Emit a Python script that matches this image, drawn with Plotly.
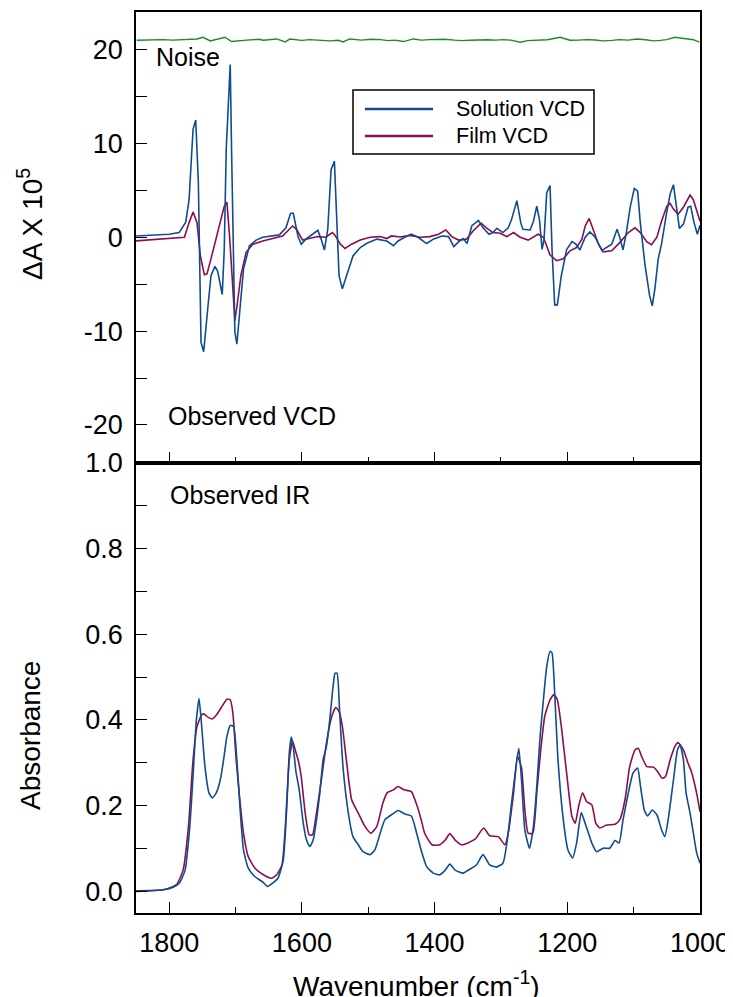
import plotly.graph_objects as go

# ---------------- data ----------------
sol_vcd_wn = [1850, 1800, 1785, 1775, 1770, 1764, 1760, 1756, 1752, 1748, 1742, 1737, 1731, 1727, 1720, 1717,
              1714, 1710, 1708, 1706, 1703, 1701, 1698, 1693, 1688, 1679, 1669, 1659, 1644, 1634, 1624, 1617,
              1613, 1606, 1601, 1594, 1584, 1576, 1571, 1566, 1561, 1556, 1551, 1548, 1544, 1539, 1530, 1523,
              1512, 1502, 1487, 1472, 1462, 1455, 1445, 1435, 1425, 1412, 1402, 1389, 1379, 1371, 1364, 1357,
              1351, 1344, 1334, 1327, 1318, 1312, 1306, 1297, 1289, 1284, 1276, 1270, 1267, 1256, 1251, 1246,
              1242, 1238, 1235, 1231, 1226, 1223, 1219, 1215, 1209, 1201, 1193, 1187, 1181, 1173, 1166, 1158,
              1148, 1141, 1133, 1125, 1121, 1116, 1111, 1105, 1099, 1094, 1090, 1083, 1076, 1072, 1068, 1063,
              1058, 1051, 1045, 1040, 1036, 1031, 1025, 1018, 1014, 1009, 1004, 1000]
sol_vcd = [0.14, 0.32, 0.5, 1.6, 4.0, 11.5, 12.5, 5.8, -11.2, -12.2, -7.7, -4.1, -3.1, -3.6, -6.1, -1.3,
           9.4, 16.5, 18.4, 9.4, -4.8, -10.1, -11.4, -6.9, -3.4, -0.9, -0.3, 0.0, 0.14, 0.25, 1.0, 2.55,
           2.55, 0.14, -0.74, -0.2, 0.32, 0.74, -0.2, -1.35, 0.85, 7.2, 8.1, 2.3, -4.1, -5.5, -3.4, -2.0,
           -1.1, -0.64, -0.2, -0.4, -0.9, -0.4, 0.0, 0.32, 0.0, -0.67, -0.2, 0.14, 0.07, -1.0, -0.5, -0.14,
           -0.67, 1.2, 1.8, 1.0, 0.32, 0.5, 0.96, 0.5, 1.0, 1.9, 3.9, 1.5, 0.85, 0.78, 1.7, 3.3,
           1.9, -1.3, -0.2, 4.75, 5.5, -1.3, -7.2, -7.2, -4.1, -1.3, -0.46, -0.74, -1.35, 0.0, 0.57, 0.0,
           -1.4, -1.1, -0.74, 0.85, 0.0, -1.35, 0.5, 3.3, 5.2, 4.9, 1.56, -2.9, -6.2, -7.3, -5.5, -2.3,
           -0.74, 2.3, 4.6, 5.6, 3.7, 0.93, 1.4, 3.2, 3.3, 1.56, 0.32, 1.28]

film_vcd_wn = [1850, 1800, 1777, 1770, 1764, 1758, 1753, 1747, 1743, 1737, 1729, 1722, 1717, 1713, 1709, 1704,
               1701, 1697, 1692, 1684, 1674, 1659, 1644, 1629, 1619, 1614, 1608, 1599, 1589, 1576, 1564, 1554,
               1550, 1542, 1535, 1525, 1512, 1497, 1482, 1472, 1465, 1452, 1437, 1422, 1407, 1394, 1383, 1374,
               1364, 1352, 1342, 1330, 1322, 1312, 1301, 1291, 1281, 1271, 1259, 1244, 1236, 1226, 1216, 1206,
               1196, 1186, 1178, 1173, 1167, 1161, 1153, 1146, 1133, 1121, 1108, 1098, 1090, 1080, 1073, 1065,
               1058, 1050, 1045, 1040, 1033, 1025, 1015, 1010, 1000]
film_vcd = [-0.39, -0.14, 0.0, 1.56, 2.7, 1.56, -2.0, -4.0, -3.9, -2.3, -0.2, 1.9, 3.3, 3.75, 0.14, -5.5,
            -8.9, -6.9, -4.1, -1.6, -0.74, -0.39, -0.14, 0.14, 0.85, 1.2, 0.85, -0.3, -0.14, 0.07, 0.0, 0.5,
            0.2, -0.74, -1.2, -0.74, -0.3, 0.0, 0.07, -0.14, 0.14, 0.03, 0.2, 0.0, 0.07, 0.32, 0.78, 0.07,
            -0.3, -0.2, 0.67, 1.5, 1.0, 0.5, 0.43, 0.07, 0.5, 0.0, -0.3, 0.32, 0.0, -1.9, -2.5, -2.3,
            -1.45, -1.1, -0.2, 1.2, 2.0, 0.85, -0.74, -1.56, -1.45, -0.57, 0.5, 1.0, 0.5, -0.5, -0.8, 0.0,
            1.7, 3.3, 3.6, 3.0, 2.45, 3.2, 4.5, 4.0, 1.7]

noise_wn = [1849, 1830, 1809, 1795, 1780, 1770, 1758, 1749, 1738, 1716, 1706, 1683, 1665, 1658, 1638, 1625,
            1618, 1600, 1588, 1558, 1545, 1538, 1528, 1510, 1495, 1482, 1470, 1460, 1447, 1432, 1420, 1407,
            1397, 1385, 1370, 1358, 1347, 1335, 1320, 1308, 1296, 1285, 1271, 1260, 1246, 1230, 1211, 1196,
            1183, 1171, 1158, 1146, 1133, 1121, 1108, 1095, 1082, 1070, 1060, 1050, 1038, 1020, 1010, 1001]
noise = [20.99, 21.02, 21.06, 21.0, 21.05, 21.08, 21.13, 21.31, 20.92, 21.31, 20.85, 21.0, 21.1, 20.99, 21.13, 20.81,
         21.13, 20.98, 21.06, 20.92, 20.99, 20.81, 21.13, 21.0, 21.1, 21.06, 20.95, 21.0, 20.85, 21.13, 21.0, 21.06,
         21.06, 21.1, 21.0, 20.95, 20.99, 21.05, 21.05, 21.0, 21.06, 21.0, 20.78, 20.95, 20.99, 21.05, 21.31, 20.99,
         21.0, 21.06, 21.02, 20.92, 20.98, 21.06, 21.0, 21.13, 21.05, 20.92, 20.98, 21.06, 21.31, 21.13, 21.05, 20.78]

sol_ir_wn = [1850, 1809, 1794, 1784, 1776, 1769, 1764, 1759, 1755, 1751, 1746, 1740, 1735, 1729, 1723, 1718,
             1713, 1708, 1703, 1698, 1693, 1688, 1681, 1671, 1658, 1652, 1643, 1636, 1628, 1623, 1619, 1616,
             1613, 1609, 1604, 1598, 1593, 1588, 1583, 1578, 1573, 1568, 1563, 1558, 1553, 1550, 1547, 1543,
             1538, 1530, 1523, 1515, 1508, 1497, 1490, 1482, 1475, 1465, 1455, 1445, 1435, 1427, 1420, 1412,
             1402, 1392, 1384, 1377, 1369, 1357, 1347, 1337, 1327, 1317, 1307, 1297, 1291, 1284, 1276, 1273,
             1269, 1264, 1257, 1251, 1246, 1241, 1236, 1231, 1226, 1223, 1219, 1214, 1206, 1199, 1192, 1186,
             1179, 1174, 1168, 1163, 1156, 1146, 1136, 1128, 1122, 1116, 1108, 1101, 1094, 1090, 1084, 1079,
             1072, 1065, 1058, 1053, 1048, 1040, 1034, 1030, 1025, 1021, 1015, 1010, 1005, 1000]
sol_ir = [0.0, 0.004, 0.01, 0.021, 0.05, 0.15, 0.27, 0.40, 0.45, 0.385, 0.29, 0.23, 0.218, 0.23, 0.26, 0.307,
          0.361, 0.387, 0.385, 0.307, 0.19, 0.097, 0.055, 0.035, 0.021, 0.012, 0.021, 0.031, 0.074, 0.19, 0.323, 0.36,
          0.338, 0.28, 0.237, 0.16, 0.12, 0.105, 0.12, 0.167, 0.23, 0.307, 0.338, 0.40, 0.478, 0.509, 0.509, 0.416,
          0.29, 0.183, 0.128, 0.109, 0.093, 0.086, 0.097, 0.136, 0.167, 0.179, 0.189, 0.181, 0.176, 0.136, 0.095, 0.058,
          0.043, 0.039, 0.05, 0.064, 0.05, 0.043, 0.052, 0.062, 0.086, 0.062, 0.057, 0.066, 0.113, 0.206, 0.307, 0.334,
          0.26, 0.144, 0.101, 0.152, 0.245, 0.361, 0.447, 0.524, 0.56, 0.556, 0.462, 0.307, 0.167, 0.097, 0.078, 0.113,
          0.184, 0.163, 0.136, 0.113, 0.093, 0.101, 0.101, 0.119, 0.113, 0.167, 0.23, 0.276, 0.288, 0.249, 0.19, 0.176,
          0.19, 0.179, 0.144, 0.128, 0.167, 0.26, 0.33, 0.342, 0.307, 0.23, 0.183, 0.136, 0.09, 0.066]

film_ir_wn = [1850, 1809, 1789, 1779, 1771, 1764, 1758, 1751, 1748, 1741, 1735, 1728, 1719, 1713, 1708, 1704,
              1699, 1694, 1688, 1681, 1671, 1658, 1646, 1638, 1630, 1625, 1619, 1614, 1610, 1605, 1601, 1595,
              1589, 1584, 1578, 1570, 1563, 1555, 1549, 1544, 1539, 1533, 1525, 1515, 1505, 1496, 1487, 1478,
              1471, 1462, 1455, 1446, 1435, 1426, 1419, 1415, 1404, 1392, 1384, 1377, 1369, 1359, 1349, 1339,
              1326, 1317, 1304, 1294, 1289, 1281, 1275, 1269, 1264, 1259, 1252, 1246, 1240, 1234, 1226, 1220,
              1215, 1209, 1201, 1193, 1188, 1183, 1177, 1171, 1163, 1157, 1151, 1141, 1128, 1121, 1113, 1106,
              1098, 1093, 1088, 1080, 1070, 1064, 1057, 1052, 1045, 1038, 1033, 1025, 1018, 1013, 1005, 1000]
film_ir = [0.002, 0.004, 0.016, 0.05, 0.15, 0.307, 0.385, 0.412, 0.414, 0.406, 0.402, 0.413, 0.435, 0.448, 0.447, 0.416,
           0.307, 0.221, 0.136, 0.082, 0.055, 0.039, 0.031, 0.039, 0.062, 0.15, 0.307, 0.351, 0.33, 0.303, 0.268, 0.183,
           0.132, 0.132, 0.183, 0.268, 0.346, 0.408, 0.429, 0.42, 0.385, 0.307, 0.214, 0.183, 0.152, 0.136, 0.152, 0.206,
           0.231, 0.237, 0.245, 0.237, 0.233, 0.198, 0.16, 0.136, 0.109, 0.109, 0.12, 0.135, 0.12, 0.109, 0.114, 0.122,
           0.148, 0.13, 0.128, 0.109, 0.136, 0.23, 0.315, 0.288, 0.19, 0.136, 0.136, 0.23, 0.33, 0.408, 0.447, 0.459,
           0.447, 0.385, 0.276, 0.175, 0.159, 0.198, 0.23, 0.21, 0.202, 0.159, 0.148, 0.155, 0.157, 0.167, 0.214, 0.291,
           0.33, 0.334, 0.315, 0.291, 0.29, 0.28, 0.264, 0.268, 0.307, 0.338, 0.347, 0.33, 0.299, 0.28, 0.229, 0.186]

vcd_ticks = [-20, -10, 0, 10, 20]
vcd_tick_text = ["-20", "-10", "0", "10", "20"]

# ---------------- style ----------------
BLUE = "#0f4d8f"
RED = "#8c0d4f"
GREEN = "#1e8c1e"
FONT = "Liberation Sans, Arial, sans-serif"

# the page body adds an 8px margin, so the figure is 8px smaller and shifted
OFF = 8
W, H = 733 - OFF, 997 - OFF
L, T = 136 - OFF, 12 - OFF
PW, PH = 564, 901
R, B = W - L - PW, H - T - PH


def px(x):  # page x -> paper
    return (x - OFF - L) / PW


def py(y):  # page y -> paper
    return (H - B - (y - OFF)) / PH


fig = go.Figure()
fig.add_trace(go.Scatter(x=noise_wn, y=noise, mode="lines", line=dict(color=GREEN, width=1.4),
                         xaxis="x2", yaxis="y2", showlegend=False, name="Noise"))
fig.add_trace(go.Scatter(x=film_vcd_wn, y=film_vcd, mode="lines", line=dict(color=RED, width=1.6),
                         xaxis="x2", yaxis="y2", showlegend=False, name="Film VCD"))
fig.add_trace(go.Scatter(x=sol_vcd_wn, y=sol_vcd, mode="lines", line=dict(color=BLUE, width=1.6),
                         xaxis="x2", yaxis="y2", showlegend=False, name="Solution VCD"))
fig.add_trace(go.Scatter(x=film_ir_wn, y=film_ir, mode="lines", line=dict(color=RED, width=1.6, shape="spline", smoothing=0.5),
                         xaxis="x", yaxis="y", showlegend=False, name="Film IR"))
fig.add_trace(go.Scatter(x=sol_ir_wn, y=sol_ir, mode="lines", line=dict(color=BLUE, width=1.6, shape="spline", smoothing=0.5),
                         xaxis="x", yaxis="y", showlegend=False, name="Solution IR"))

tickfont = dict(family=FONT, size=27, color="black")
xcommon = dict(range=[1850, 1000], tick0=1000, dtick=200, ticks="inside", ticklen=11, tickwidth=1.3,
               tickcolor="black", showline=True, linecolor="black", linewidth=1.6, mirror=True,
               showgrid=False, zeroline=False, tickfont=tickfont, automargin=False,
               minor=dict(tick0=1000, dtick=100, ticks="inside", ticklen=6, tickwidth=1.3, tickcolor="black"))

fig.update_layout(
    width=W, height=H,
    margin=dict(l=L, r=R, t=T, b=B, autoexpand=False),
    paper_bgcolor="white", plot_bgcolor="white",
    font=dict(family=FONT, color="black"),
    showlegend=False,
    xaxis=dict(anchor="y", ticklabelstandoff=5, **xcommon),
    xaxis2=dict(anchor="y2", matches="x", showticklabels=False, **xcommon),
    yaxis=dict(domain=[0, 0.5], anchor="x", range=[-0.05, 1.0], tick0=0, dtick=0.2, tickformat=".1f",
               ticks="inside", ticklen=11, tickwidth=1.3, tickcolor="black", showline=True,
               linecolor="black", linewidth=1.6, mirror=True, showgrid=False, zeroline=False,
               tickfont=tickfont, ticklabelstandoff=6, automargin=False,
               minor=dict(tick0=0, dtick=0.1, ticks="inside", ticklen=11, tickwidth=1.3, tickcolor="black")),
    yaxis2=dict(domain=[0.5, 1], anchor="x2", range=[-24, 24], tickmode="array", tickvals=vcd_ticks,
                ticktext=vcd_tick_text, ticks="inside", ticklen=11, tickwidth=1.3, tickcolor="black",
                showline=True, linecolor="black", linewidth=1.6, mirror=True, showgrid=False, zeroline=False,
                tickfont=tickfont, ticklabelstandoff=6, automargin=False,
                minor=dict(tick0=0, dtick=5, ticks="inside", ticklen=11, tickwidth=1.3, tickcolor="black")),
)

ann_font = dict(family=FONT, size=25, color="black")
title_font = dict(family=FONT, size=28, color="black")
legend_font = dict(family=FONT, size=21.5, color="black")
annotations = [
    dict(text="Noise", x=px(154), y=py(57), xanchor="left", yanchor="middle", font=ann_font),
    dict(text="Observed VCD", x=px(166), y=py(416), xanchor="left", yanchor="middle", font=ann_font),
    dict(text="Observed IR", x=px(168), y=py(495), xanchor="left", yanchor="middle", font=ann_font),
    dict(text="ΔA X 10<sup>5</sup>", x=px(30), y=py(224), xanchor="center", yanchor="middle",
         textangle=-90, font=title_font),
    dict(text="Absorbance", x=px(30), y=py(736), xanchor="center", yanchor="middle",
         textangle=-90, font=title_font),
    dict(text="Wavenumber (cm<sup>-1</sup>)", x=px(291), y=py(984), xanchor="left", yanchor="middle",
         font=title_font),
    dict(text="Solution VCD", x=px(454), y=py(109), xanchor="left", yanchor="middle", font=legend_font),
    dict(text="Film VCD", x=px(454), y=py(136), xanchor="left", yanchor="middle", font=legend_font),
]
for a in annotations:
    a.update(xref="paper", yref="paper", showarrow=False)
fig.update_layout(annotations=annotations)

shapes = [
    dict(type="rect", x0=px(353), x1=px(594), y0=py(154), y1=py(90), line=dict(color="black", width=1.5),
         fillcolor="white", layer="below"),
    dict(type="line", x0=px(365), x1=px(433), y0=py(109), y1=py(109), line=dict(color=BLUE, width=2.5)),
    dict(type="line", x0=px(365), x1=px(433), y0=py(136), y1=py(136), line=dict(color=RED, width=2.5)),
]
for s in shapes:
    s.update(xref="paper", yref="paper")
fig.update_layout(shapes=shapes)

fig.write_html("out.html")
